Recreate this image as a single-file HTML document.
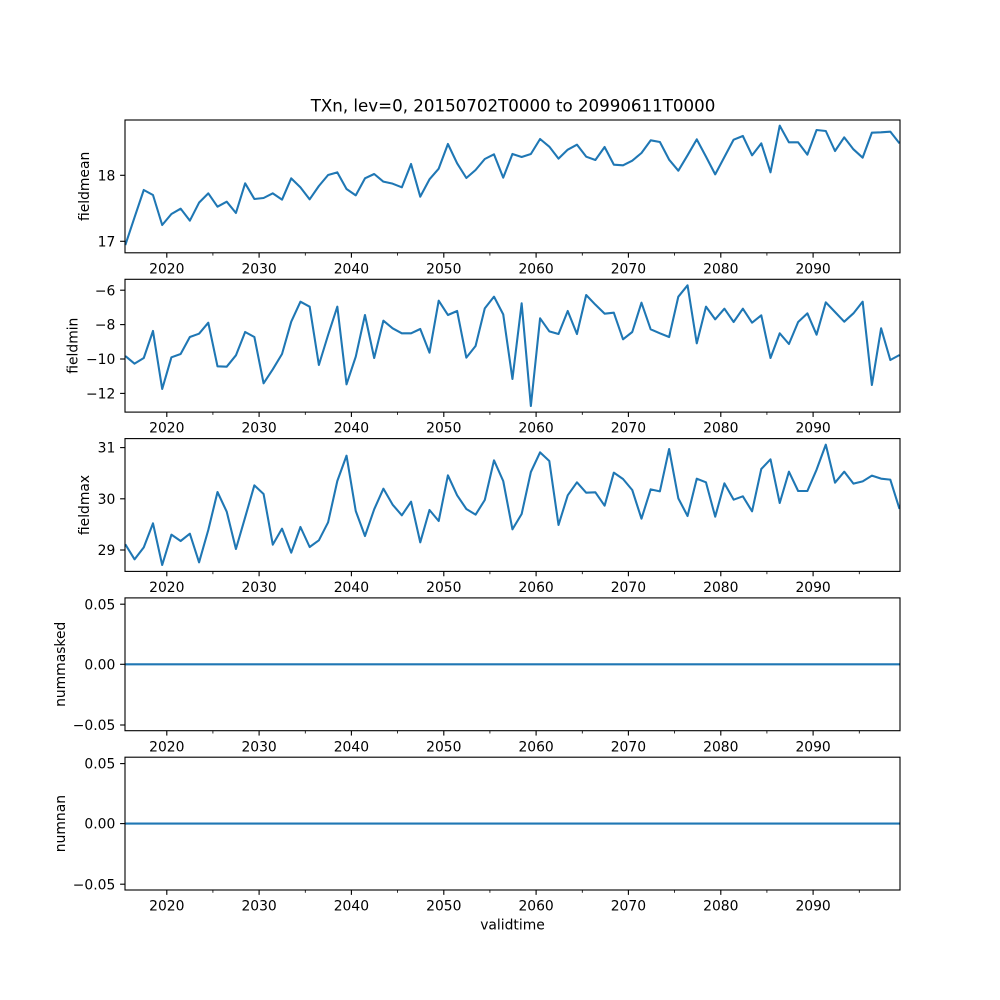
<!DOCTYPE html>
<html><head><meta charset="utf-8"><style>
html,body{margin:0;padding:0;background:#fff;}
svg{display:block;}
text{font-family:"DejaVu Sans","Liberation Sans",sans-serif;fill:#000;}
.t{font-size:13.89px;}
.xt{font-size:13.89px;text-anchor:middle;}
.yt{font-size:13.89px;text-anchor:end;}
.d{fill:none;stroke:#1f77b4;stroke-width:2.08;stroke-linejoin:round;}
.sp{fill:none;stroke:#000;stroke-width:1.11;}
.mj{stroke:#000;stroke-width:1.11;}
.mn{stroke:#000;stroke-width:0.83;}
</style></head><body>
<svg width="1000" height="1000" viewBox="0 0 1000 1000" xmlns="http://www.w3.org/2000/svg">
<rect x="0" y="0" width="1000" height="1000" fill="#fff"/>

<text x="513" y="111.5" style="font-size:16.67px;text-anchor:middle;">TXn, lev=0, 20150702T0000 to 20990611T0000</text>

<!-- Panel 1 -->
<polyline class="d" vector-effect="non-scaling-stroke" transform="translate(125.33,110) scale(9.2167,0.333333)" points="0,405 1,322 2,240 3,255 4,345 5,312 6,296 7,332 8,278 9,250 10,290 11,275 12,309 13,220 14,267 15,264 16,250 17,269 18,205 19,232 20,268 21,228 22,195 23,187 24,237 25,256 26,205 27,192 28,215 29,221 30,232 31,162 32,260 33,208 34,176 35,102 36,160 37,204 38,180 39,147 40,133 41,203 42,132 43,141 44,132 45,87 46,110 47,146 48,119 49,104 50,140 51,150 52,111 53,164 54,166 55,152 56,129 57,91 58,96 59,149 60,182 61,136 62,88 63,140 64,193 65,141 66,89 67,78 68,136 69,100 70,187 71,47 72,97 73,97 74,134 75,60 76,63 77,123 78,82 79,118 80,143 81,68 82,67 83,65 84,100"/>
<rect class="sp" x="125" y="120" width="775" height="132.8"/>
<line class="mj" x1="120.1" y1="175.3" x2="125" y2="175.3"/>
<line class="mj" x1="120.1" y1="241.3" x2="125" y2="241.3"/>
<text class="yt" x="115.3" y="180.4">18</text>
<text class="yt" x="115.3" y="246.4">17</text>
<text class="t" transform="translate(89,186.4) rotate(-90)" text-anchor="middle">fieldmean</text>
<g transform="translate(0,252.8)">
<line class="mj" x1="166.8" y1="0" x2="166.8" y2="4.86"/><line class="mj" x1="259.1" y1="0" x2="259.1" y2="4.86"/><line class="mj" x1="351.4" y1="0" x2="351.4" y2="4.86"/><line class="mj" x1="443.8" y1="0" x2="443.8" y2="4.86"/><line class="mj" x1="536.1" y1="0" x2="536.1" y2="4.86"/><line class="mj" x1="628.4" y1="0" x2="628.4" y2="4.86"/><line class="mj" x1="720.8" y1="0" x2="720.8" y2="4.86"/><line class="mj" x1="813.1" y1="0" x2="813.1" y2="4.86"/>
<line class="mn" x1="212.9" y1="0" x2="212.9" y2="2.78"/><line class="mn" x1="305.3" y1="0" x2="305.3" y2="2.78"/><line class="mn" x1="397.6" y1="0" x2="397.6" y2="2.78"/><line class="mn" x1="489.9" y1="0" x2="489.9" y2="2.78"/><line class="mn" x1="582.3" y1="0" x2="582.3" y2="2.78"/><line class="mn" x1="674.6" y1="0" x2="674.6" y2="2.78"/><line class="mn" x1="766.9" y1="0" x2="766.9" y2="2.78"/><line class="mn" x1="859.3" y1="0" x2="859.3" y2="2.78"/>
<text class="xt" x="166.8" y="20.6">2020</text><text class="xt" x="259.1" y="20.6">2030</text><text class="xt" x="351.4" y="20.6">2040</text><text class="xt" x="443.8" y="20.6">2050</text><text class="xt" x="536.1" y="20.6">2060</text><text class="xt" x="628.4" y="20.6">2070</text><text class="xt" x="720.8" y="20.6">2080</text><text class="xt" x="813.1" y="20.6">2090</text>
</g>

<!-- Panel 2 -->
<polyline class="d" vector-effect="non-scaling-stroke" transform="translate(125.33,270) scale(9.2167,0.333333)" points="0,258 1,281 2,264 3,183 4,357 5,262 6,252 7,201 8,191 9,158 10,289 11,290 12,256 13,186 14,201 15,340 16,298 17,252 18,155 19,95 20,110 21,285 22,195 23,110 24,343 25,260 26,135 27,264 28,152 29,175 30,190 31,190 32,177 33,248 34,92 35,135 36,123 37,263 38,228 39,115 40,80 41,133 42,327 43,100 44,408 45,145 46,184 47,192 48,123 49,192 50,75 51,104 52,131 53,128 54,208 55,186 56,98 57,178 58,190 59,201 60,80 61,46 62,220 63,110 64,148 65,116 66,156 67,116 68,158 69,136 70,264 71,190 72,222 73,156 74,130 75,194 76,97 77,126 78,155 79,130 80,95 81,345 82,175 83,270 84,255"/>
<rect class="sp" x="125" y="279.3" width="775" height="132.8"/>
<line class="mj" x1="120.1" y1="290.2" x2="125" y2="290.2"/>
<line class="mj" x1="120.1" y1="324.6" x2="125" y2="324.6"/>
<line class="mj" x1="120.1" y1="359.0" x2="125" y2="359.0"/>
<line class="mj" x1="120.1" y1="393.4" x2="125" y2="393.4"/>
<text class="yt" x="115.3" y="295.3">−6</text>
<text class="yt" x="115.3" y="329.7">−8</text>
<text class="yt" x="115.3" y="364.1">−10</text>
<text class="yt" x="115.3" y="398.5">−12</text>
<text class="t" transform="translate(77.5,345.7) rotate(-90)" text-anchor="middle">fieldmin</text>
<g transform="translate(0,412.1)">
<line class="mj" x1="166.8" y1="0" x2="166.8" y2="4.86"/><line class="mj" x1="259.1" y1="0" x2="259.1" y2="4.86"/><line class="mj" x1="351.4" y1="0" x2="351.4" y2="4.86"/><line class="mj" x1="443.8" y1="0" x2="443.8" y2="4.86"/><line class="mj" x1="536.1" y1="0" x2="536.1" y2="4.86"/><line class="mj" x1="628.4" y1="0" x2="628.4" y2="4.86"/><line class="mj" x1="720.8" y1="0" x2="720.8" y2="4.86"/><line class="mj" x1="813.1" y1="0" x2="813.1" y2="4.86"/>
<line class="mn" x1="212.9" y1="0" x2="212.9" y2="2.78"/><line class="mn" x1="305.3" y1="0" x2="305.3" y2="2.78"/><line class="mn" x1="397.6" y1="0" x2="397.6" y2="2.78"/><line class="mn" x1="489.9" y1="0" x2="489.9" y2="2.78"/><line class="mn" x1="582.3" y1="0" x2="582.3" y2="2.78"/><line class="mn" x1="674.6" y1="0" x2="674.6" y2="2.78"/><line class="mn" x1="766.9" y1="0" x2="766.9" y2="2.78"/><line class="mn" x1="859.3" y1="0" x2="859.3" y2="2.78"/>
<text class="xt" x="166.8" y="20.6">2020</text><text class="xt" x="259.1" y="20.6">2030</text><text class="xt" x="351.4" y="20.6">2040</text><text class="xt" x="443.8" y="20.6">2050</text><text class="xt" x="536.1" y="20.6">2060</text><text class="xt" x="628.4" y="20.6">2070</text><text class="xt" x="720.8" y="20.6">2080</text><text class="xt" x="813.1" y="20.6">2090</text>
</g>

<!-- Panel 3 -->
<polyline class="d" vector-effect="non-scaling-stroke" transform="translate(125.33,430) scale(9.2167,0.333333)" points="0,343 1,388 2,352 3,280 4,405 5,314 6,333 7,311 8,397 9,300 10,186 11,245 12,357 13,262 14,166 15,192 16,344 17,296 18,368 19,291 20,351 21,331 22,277 23,153 24,77 25,243 26,318 27,238 28,176 29,224 30,256 31,215 32,337 33,240 34,273 35,136 36,196 37,237 38,254 39,210 40,91 41,153 42,298 43,252 44,126 45,67 46,93 47,285 48,196 49,157 50,188 51,187 52,227 53,128 54,147 55,180 56,266 57,178 58,184 59,57 60,205 61,258 62,146 63,157 64,260 65,160 66,209 67,199 68,244 69,117 70,88 71,219 72,125 73,183 74,183 75,119 76,44 77,158 78,125 79,161 80,154 81,137 82,146 83,149 84,237"/>
<rect class="sp" x="125" y="438.6" width="775" height="132.8"/>
<line class="mj" x1="120.1" y1="447.6" x2="125" y2="447.6"/>
<line class="mj" x1="120.1" y1="498.8" x2="125" y2="498.8"/>
<line class="mj" x1="120.1" y1="550.0" x2="125" y2="550.0"/>
<text class="yt" x="115.3" y="452.7">31</text>
<text class="yt" x="115.3" y="503.9">30</text>
<text class="yt" x="115.3" y="555.1">29</text>
<text class="t" transform="translate(89,505) rotate(-90)" text-anchor="middle">fieldmax</text>
<g transform="translate(0,571.4)">
<line class="mj" x1="166.8" y1="0" x2="166.8" y2="4.86"/><line class="mj" x1="259.1" y1="0" x2="259.1" y2="4.86"/><line class="mj" x1="351.4" y1="0" x2="351.4" y2="4.86"/><line class="mj" x1="443.8" y1="0" x2="443.8" y2="4.86"/><line class="mj" x1="536.1" y1="0" x2="536.1" y2="4.86"/><line class="mj" x1="628.4" y1="0" x2="628.4" y2="4.86"/><line class="mj" x1="720.8" y1="0" x2="720.8" y2="4.86"/><line class="mj" x1="813.1" y1="0" x2="813.1" y2="4.86"/>
<line class="mn" x1="212.9" y1="0" x2="212.9" y2="2.78"/><line class="mn" x1="305.3" y1="0" x2="305.3" y2="2.78"/><line class="mn" x1="397.6" y1="0" x2="397.6" y2="2.78"/><line class="mn" x1="489.9" y1="0" x2="489.9" y2="2.78"/><line class="mn" x1="582.3" y1="0" x2="582.3" y2="2.78"/><line class="mn" x1="674.6" y1="0" x2="674.6" y2="2.78"/><line class="mn" x1="766.9" y1="0" x2="766.9" y2="2.78"/><line class="mn" x1="859.3" y1="0" x2="859.3" y2="2.78"/>
<text class="xt" x="166.8" y="20.6">2020</text><text class="xt" x="259.1" y="20.6">2030</text><text class="xt" x="351.4" y="20.6">2040</text><text class="xt" x="443.8" y="20.6">2050</text><text class="xt" x="536.1" y="20.6">2060</text><text class="xt" x="628.4" y="20.6">2070</text><text class="xt" x="720.8" y="20.6">2080</text><text class="xt" x="813.1" y="20.6">2090</text>
</g>

<!-- Panel 4 -->
<line class="d" x1="125" y1="664.3" x2="900" y2="664.3"/>
<rect class="sp" x="125" y="597.9" width="775" height="132.8"/>
<line class="mj" x1="120.1" y1="604.2" x2="125" y2="604.2"/>
<line class="mj" x1="120.1" y1="664.3" x2="125" y2="664.3"/>
<line class="mj" x1="120.1" y1="725.0" x2="125" y2="725.0"/>
<text class="yt" x="115.3" y="609.3">0.05</text>
<text class="yt" x="115.3" y="669.4">0.00</text>
<text class="yt" x="115.3" y="730.1">−0.05</text>
<text class="t" transform="translate(65,664.3) rotate(-90)" text-anchor="middle">nummasked</text>
<g transform="translate(0,730.7)">
<line class="mj" x1="166.8" y1="0" x2="166.8" y2="4.86"/><line class="mj" x1="259.1" y1="0" x2="259.1" y2="4.86"/><line class="mj" x1="351.4" y1="0" x2="351.4" y2="4.86"/><line class="mj" x1="443.8" y1="0" x2="443.8" y2="4.86"/><line class="mj" x1="536.1" y1="0" x2="536.1" y2="4.86"/><line class="mj" x1="628.4" y1="0" x2="628.4" y2="4.86"/><line class="mj" x1="720.8" y1="0" x2="720.8" y2="4.86"/><line class="mj" x1="813.1" y1="0" x2="813.1" y2="4.86"/>
<line class="mn" x1="212.9" y1="0" x2="212.9" y2="2.78"/><line class="mn" x1="305.3" y1="0" x2="305.3" y2="2.78"/><line class="mn" x1="397.6" y1="0" x2="397.6" y2="2.78"/><line class="mn" x1="489.9" y1="0" x2="489.9" y2="2.78"/><line class="mn" x1="582.3" y1="0" x2="582.3" y2="2.78"/><line class="mn" x1="674.6" y1="0" x2="674.6" y2="2.78"/><line class="mn" x1="766.9" y1="0" x2="766.9" y2="2.78"/><line class="mn" x1="859.3" y1="0" x2="859.3" y2="2.78"/>
<text class="xt" x="166.8" y="20.6">2020</text><text class="xt" x="259.1" y="20.6">2030</text><text class="xt" x="351.4" y="20.6">2040</text><text class="xt" x="443.8" y="20.6">2050</text><text class="xt" x="536.1" y="20.6">2060</text><text class="xt" x="628.4" y="20.6">2070</text><text class="xt" x="720.8" y="20.6">2080</text><text class="xt" x="813.1" y="20.6">2090</text>
</g>

<!-- Panel 5 -->
<line class="d" x1="125" y1="823.6" x2="900" y2="823.6"/>
<rect class="sp" x="125" y="757.2" width="775" height="132.8"/>
<line class="mj" x1="120.1" y1="763.6" x2="125" y2="763.6"/>
<line class="mj" x1="120.1" y1="823.6" x2="125" y2="823.6"/>
<line class="mj" x1="120.1" y1="884.2" x2="125" y2="884.2"/>
<text class="yt" x="115.3" y="768.7">0.05</text>
<text class="yt" x="115.3" y="828.7">0.00</text>
<text class="yt" x="115.3" y="889.3">−0.05</text>
<text class="t" transform="translate(65,823.6) rotate(-90)" text-anchor="middle">numnan</text>
<g transform="translate(0,890)">
<line class="mj" x1="166.8" y1="0" x2="166.8" y2="4.86"/><line class="mj" x1="259.1" y1="0" x2="259.1" y2="4.86"/><line class="mj" x1="351.4" y1="0" x2="351.4" y2="4.86"/><line class="mj" x1="443.8" y1="0" x2="443.8" y2="4.86"/><line class="mj" x1="536.1" y1="0" x2="536.1" y2="4.86"/><line class="mj" x1="628.4" y1="0" x2="628.4" y2="4.86"/><line class="mj" x1="720.8" y1="0" x2="720.8" y2="4.86"/><line class="mj" x1="813.1" y1="0" x2="813.1" y2="4.86"/>
<line class="mn" x1="212.9" y1="0" x2="212.9" y2="2.78"/><line class="mn" x1="305.3" y1="0" x2="305.3" y2="2.78"/><line class="mn" x1="397.6" y1="0" x2="397.6" y2="2.78"/><line class="mn" x1="489.9" y1="0" x2="489.9" y2="2.78"/><line class="mn" x1="582.3" y1="0" x2="582.3" y2="2.78"/><line class="mn" x1="674.6" y1="0" x2="674.6" y2="2.78"/><line class="mn" x1="766.9" y1="0" x2="766.9" y2="2.78"/><line class="mn" x1="859.3" y1="0" x2="859.3" y2="2.78"/>
<text class="xt" x="166.8" y="20.6">2020</text><text class="xt" x="259.1" y="20.6">2030</text><text class="xt" x="351.4" y="20.6">2040</text><text class="xt" x="443.8" y="20.6">2050</text><text class="xt" x="536.1" y="20.6">2060</text><text class="xt" x="628.4" y="20.6">2070</text><text class="xt" x="720.8" y="20.6">2080</text><text class="xt" x="813.1" y="20.6">2090</text>
</g>
<text class="t" x="512.5" y="929.3" text-anchor="middle">validtime</text>
</svg>
</body></html>
